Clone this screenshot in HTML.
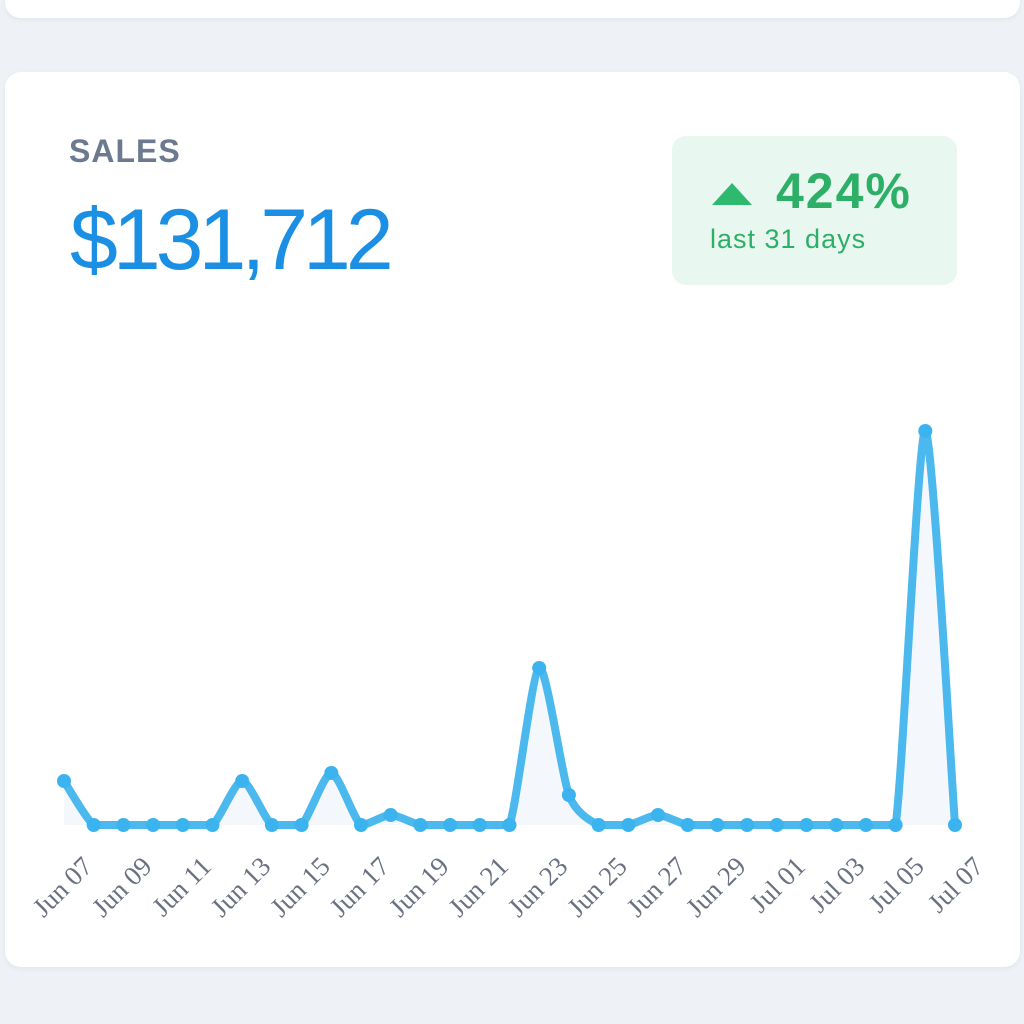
<!DOCTYPE html>
<html><head><style>
body{margin:0;width:1024px;height:1024px;background:#eef2f7;position:relative;overflow:hidden;font-family:"Liberation Sans",sans-serif}
.top{position:absolute;left:5px;top:-40px;width:1015px;height:58px;background:#fff;border-radius:16px;box-shadow:0 2px 6px rgba(0,0,0,0.05)}
.card{position:absolute;left:5px;top:72px;width:1015px;height:895px;background:#fff;border-radius:16px;box-shadow:0 2px 6px rgba(0,0,0,0.05)}
.sales{position:absolute;left:69px;top:133px;font-size:32px;font-weight:bold;color:#6b7a8f;letter-spacing:1px}
.amt{position:absolute;left:70px;top:190px;font-size:86px;color:#1a8fe3;letter-spacing:-5px;line-height:100px}
.badge{position:absolute;left:672px;top:136px;width:285px;height:149px;background:#e8f7f0;border-radius:14px}
.pct{position:absolute;left:776px;top:162px;font-size:50px;font-weight:bold;color:#2eaf68;letter-spacing:2px}
.days{position:absolute;left:710px;top:224px;font-size:27px;color:#2eaf68;letter-spacing:1px}
</style></head><body>
<div class="top"></div>
<div class="card"></div>
<div class="sales">SALES</div>
<div class="amt">$131,712</div>
<div class="badge"></div>
<svg style="position:absolute;left:0;top:0" width="1024" height="1024">
<polygon points="712,205 732,183 752,205" fill="#2eb96e"/>
</svg>
<div class="pct">424%</div>
<div class="days">last 31 days</div>
<svg style="position:absolute;left:0;top:0" width="1024" height="1024" id="c">
<g id="g"></g>
</svg>
<script>
var ys=[781,825,825,825,825,825,781,825,825,773,825,815,825,825,825,825,668,795,825,825,815,825,825,825,825,825,825,825,825,431,825];
var x0=64,dx=(955-64)/30,pts=ys.map(function(y,i){return [x0+i*dx,y]});
function path(p){var d="M"+p[0][0]+","+p[0][1];for(var i=0;i<p.length-1;i++){var a=p[i-1]||p[i],b=p[i],c=p[i+1],e=p[i+2]||c,t=0.12;
var c1x=b[0]+(c[0]-a[0])*t,c1y=b[1]+(c[1]-a[1])*t,c2x=c[0]-(e[0]-b[0])*t,c2y=c[1]-(e[1]-b[1])*t;
c1y=Math.min(c1y,825);c2y=Math.min(c2y,825);
d+=" C"+c1x+","+c1y+" "+c2x+","+c2y+" "+c[0]+","+c[1];}return d;}
var d=path(pts),s="";
s+='<path d="'+d+' L955,825 L64,825 Z" fill="#f4f8fd"/>';
s+='<path d="'+d+'" fill="none" stroke="#4bb8ee" stroke-width="8" stroke-linejoin="round"/>';
pts.forEach(function(p){s+='<circle cx="'+p[0]+'" cy="'+p[1]+'" r="7" fill="#3bb3ee"/>'});
var lab=["Jun 07","Jun 09","Jun 11","Jun 13","Jun 15","Jun 17","Jun 19","Jun 21","Jun 23","Jun 25","Jun 27","Jun 29","Jul 01","Jul 03","Jul 05","Jul 07"];
lab.forEach(function(t,k){var x=x0+2*k*dx+30,y=868;
s+='<text x="'+x+'" y="'+y+'" transform="rotate(-45 '+x+' '+y+')" text-anchor="end" font-family="Liberation Serif,serif" font-size="27" fill="#6a7180">'+t+'</text>'});
document.getElementById("g").innerHTML=s;
</script>
</body></html>
